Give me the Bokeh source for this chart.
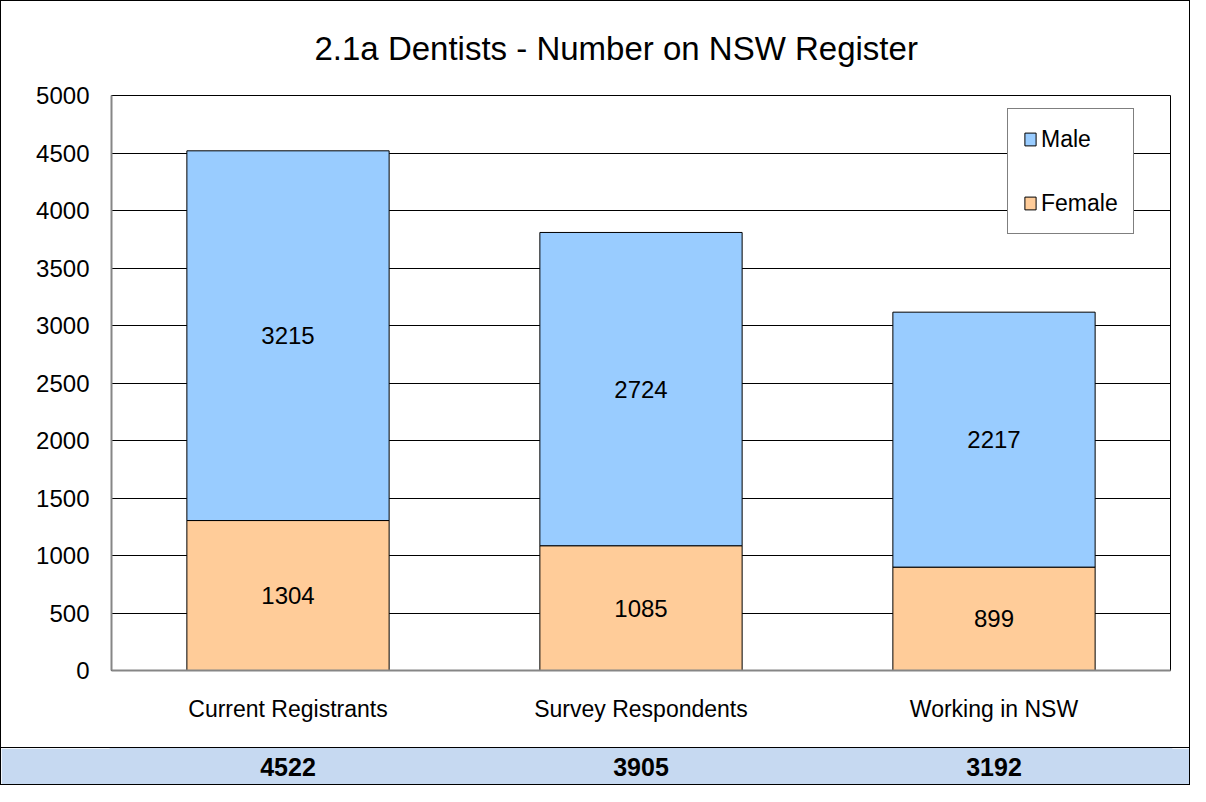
from bokeh.plotting import figure
from bokeh.models import (ColumnDataSource, Legend, LegendItem, FixedTicker,
                          Range1d, FactorRange)
from bokeh.layouts import column
from bokeh.embed import file_html
from bokeh.resources import INLINE
from bokeh.core.properties import value

# ---- data ----
categories = ["Current Registrants", "Survey Respondents", "Working in NSW"]
female = [1304, 1085, 899]
male = [3215, 2724, 2217]
totals = [4522, 3905, 3192]
y_ticks = [0, 500, 1000, 1500, 2000, 2500, 3000, 3500, 4000, 4500, 5000]
title_text = "2.1a Dentists - Number on NSW Register"

FONT = "Liberation Sans"
MALE_C = "#99CCFF"
FEMALE_C = "#FFCC99"
BAND_C = "#C6D9F1"

W = 1188
BL, BR = 110, 19          # left/right borders of the chart frame (px)

src = ColumnDataSource(dict(
    cat=categories,
    female=female,
    male=male,
    female_mid=[f / 2 for f in female],
    male_mid=[f + m / 2 for f, m in zip(female, male)],
    female_txt=[str(v) for v in female],
    male_txt=[str(v) for v in male],
    total_txt=[str(v) for v in totals],
))

p = figure(x_range=FactorRange(factors=categories), y_range=Range1d(0, 5000),
           width=W, height=746, output_backend="svg", toolbar_location=None,
           min_border_left=BL, min_border_right=BR, min_border_top=94,
           min_border_bottom=77, title=title_text)
p.background_fill_color = "white"
p.border_fill_color = "white"
p.outline_line_color = "black"
p.outline_line_width = 1

p.title.text_font = FONT
p.title.text_font_size = "33px"
p.title.text_font_style = "normal"
p.title.text_color = "black"
p.title.align = "left"
p.title.offset = 203
p.title.vertical_align = "top"
p.title.standoff = 54

renders = p.vbar_stack(["female", "male"], x="cat", width=0.573, source=src,
                       fill_color=[FEMALE_C, MALE_C], line_color="black",
                       line_width=1)
female_r, male_r = renders

p.text(x="cat", y="female_mid", text="female_txt", source=src,
       text_font=value(FONT), text_font_size="24px", text_align="center",
       text_baseline="middle", text_color="black")
p.text(x="cat", y="male_mid", text="male_txt", source=src,
       text_font=value(FONT), text_font_size="24px", text_align="center",
       text_baseline="middle", text_color="black")

# axes
p.yaxis.ticker = FixedTicker(ticks=y_ticks)
p.yaxis.major_tick_out = 0
p.yaxis.major_tick_in = 0
p.yaxis.minor_tick_out = 0
p.yaxis.minor_tick_in = 0
p.yaxis.axis_line_color = "#868686"
p.yaxis.axis_line_width = 2
p.yaxis.major_label_text_font = FONT
p.yaxis.major_label_text_font_size = "24px"
p.yaxis.major_label_text_color = "black"
p.yaxis.major_label_standoff = 22

p.xaxis.major_tick_out = 0
p.xaxis.major_tick_in = 0
p.xaxis.axis_line_color = "#868686"
p.xaxis.axis_line_width = 2
p.xaxis.major_label_text_font = FONT
p.xaxis.major_label_text_font_size = "23px"
p.xaxis.major_label_text_color = "black"
p.xaxis.major_label_standoff = 25

p.xgrid.grid_line_color = None
p.ygrid.grid_line_color = "black"
p.ygrid.grid_line_width = 1

legend = Legend(items=[LegendItem(label="Male", renderers=[male_r]),
                       LegendItem(label="Female", renderers=[female_r])],
                location=(896, 436), orientation="vertical")
legend.border_line_color = "black"
legend.border_line_width = 1.5
legend.background_fill_color = "white"
legend.background_fill_alpha = 1
legend.label_text_font = FONT
legend.label_text_font_size = "23px"
legend.label_text_color = "black"
legend.glyph_width = 14
legend.glyph_height = 16
legend.label_height = 30
legend.spacing = 34
legend.padding = 15
legend.label_standoff = 4
legend.margin = 0
p.add_layout(legend)

# totals band (shares the category axis of the chart)
p2 = figure(x_range=p.x_range, y_range=Range1d(0, 1),
            width=W, height=37, output_backend="svg", toolbar_location=None,
            min_border_left=BL, min_border_right=BR, min_border_top=0,
            min_border_bottom=0, x_axis_location=None, y_axis_location=None,
            styles={"border-top": "1px solid black"})
p2.background_fill_color = BAND_C
p2.border_fill_color = BAND_C
p2.outline_line_color = BAND_C
p2.outline_line_width = 4
p2.xgrid.grid_line_color = None
p2.ygrid.grid_line_color = None
p2.text(x="cat", y=value(0.5), text="total_txt", source=src,
        text_font=value(FONT), text_font_size="25px", text_font_style="bold",
        text_align="center", text_baseline="middle", text_color="black")

layout = column(p, p2, spacing=0, styles={"border": "1px solid black"})

open("out.html", "w").write(file_html(layout, INLINE))
